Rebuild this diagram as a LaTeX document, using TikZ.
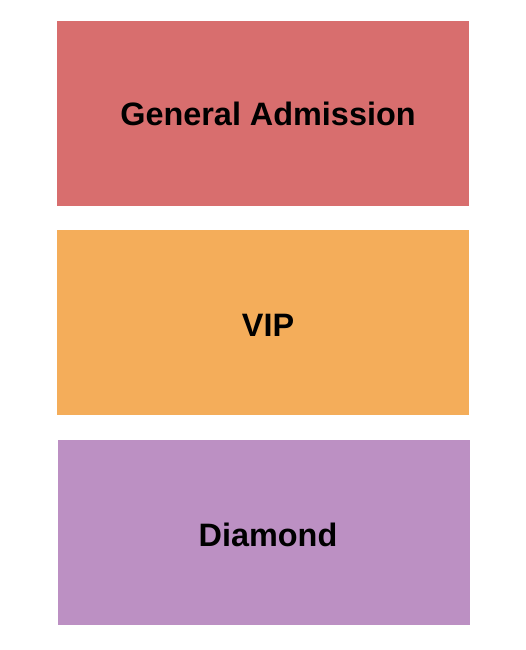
\documentclass[tikz,border=0pt]{standalone}
\usepackage{fontspec}
\setmainfont{Liberation Sans}
\definecolor{gacol}{RGB}{216,110,110}
\definecolor{vipcol}{RGB}{244,173,90}
\definecolor{diacol}{RGB}{188,144,195}
\begin{document}
\begin{tikzpicture}[x=1pt,y=-1pt,
sec/.style={draw=none},
lab/.style={font=\fontsize{32.4}{36}\selectfont\bfseries, text=black, inner sep=0pt}]
\useasboundingbox (0,0) rectangle (525,650);
\fill[sec, gacol]  (57,21)  rectangle (469,206);
\fill[sec, vipcol] (57,230) rectangle (469,415);
\fill[sec, diacol] (58,440) rectangle (470,625);
\node[lab] (ga)  at (268,114) {General Admission};
\node[lab] (vip) at (268,325) {VIP};
\node[lab] (dia) at (268,535) {Diamond};
\end{tikzpicture}
\end{document}
